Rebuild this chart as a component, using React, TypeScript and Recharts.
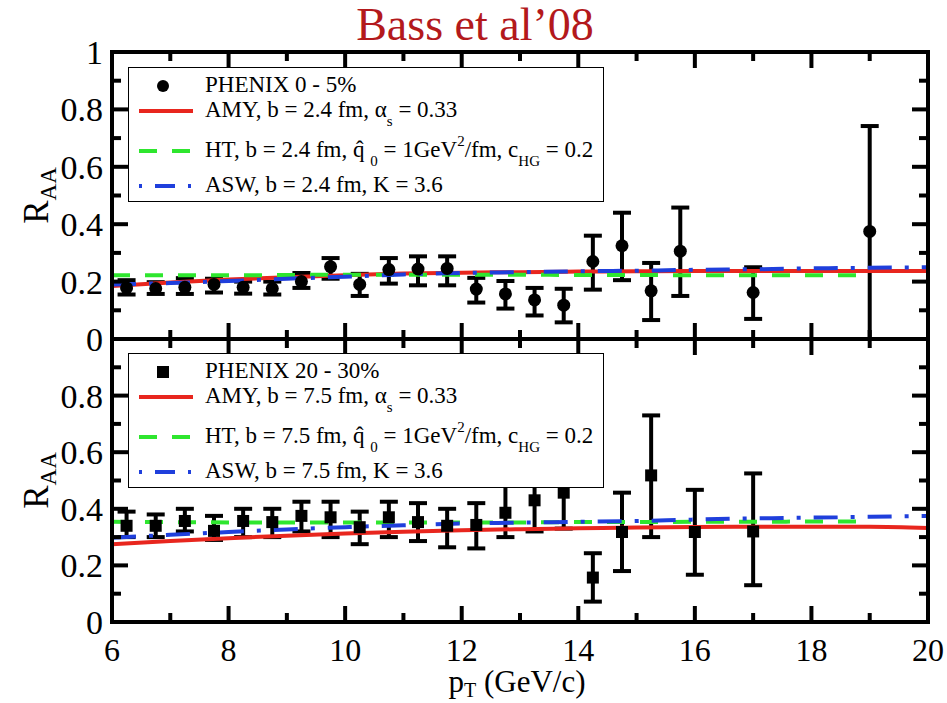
import React from 'react';
import { ComposedChart, Line, Scatter, ErrorBar, XAxis, YAxis } from 'recharts';

// theory curves, sampled at integer pT
const curveX = [6, 7, 8, 9, 10, 11, 12, 13, 14, 15, 16, 17, 18, 19, 20];

const amyCentral = [0.185, 0.197, 0.207, 0.215, 0.222, 0.228, 0.231, 0.233, 0.235, 0.236, 0.237, 0.237, 0.237, 0.237, 0.237];
const htCentral = [0.222, 0.222, 0.222, 0.223, 0.224, 0.224, 0.224, 0.224, 0.223, 0.223, 0.222, 0.222, 0.222, 0.222];
const aswCentral = [0.19, 0.195, 0.202, 0.21, 0.217, 0.225, 0.23, 0.233, 0.236, 0.238, 0.241, 0.243, 0.246, 0.248, 0.25];

const amyMid = [0.275, 0.286, 0.296, 0.305, 0.313, 0.319, 0.324, 0.328, 0.331, 0.334, 0.336, 0.337, 0.337, 0.337, 0.332];
const htMid = [0.354, 0.353, 0.352, 0.352, 0.352, 0.352, 0.352, 0.352, 0.353, 0.353, 0.354, 0.354, 0.355, 0.355];
const aswMid = [0.298, 0.308, 0.318, 0.327, 0.335, 0.342, 0.348, 0.351, 0.354, 0.357, 0.362, 0.366, 0.369, 0.372, 0.375];

// PHENIX 0-5%
const phxCentralX = [6.25, 6.75, 7.25, 7.75, 8.25, 8.75, 9.25, 9.75, 10.25, 10.75, 11.25, 11.75, 12.25, 12.75, 13.25, 13.75, 14.25, 14.75, 15.25, 15.75, 17, 19];
const phxCentralY = [0.178, 0.176, 0.18, 0.19, 0.18, 0.176, 0.2, 0.252, 0.19, 0.242, 0.244, 0.246, 0.174, 0.157, 0.136, 0.118, 0.27, 0.325, 0.168, 0.306, 0.162, 0.375];
const phxCentralLo = [0.155, 0.157, 0.157, 0.162, 0.158, 0.155, 0.178, 0.21, 0.15, 0.193, 0.187, 0.187, 0.127, 0.106, 0.082, 0.058, 0.172, 0.205, 0.066, 0.15, 0.07, 0.0];
const phxCentralHi = [0.205, 0.198, 0.212, 0.21, 0.2, 0.2, 0.23, 0.282, 0.227, 0.282, 0.288, 0.288, 0.213, 0.202, 0.178, 0.175, 0.36, 0.44, 0.265, 0.458, 0.25, 0.742];

// PHENIX 20-30%
const phxMidX = [6.25, 6.75, 7.25, 7.75, 8.25, 8.75, 9.25, 9.75, 10.25, 10.75, 11.25, 11.75, 12.25, 12.75, 13.25, 13.75, 14.25, 14.75, 15.25, 16, 17];
const phxMidY = [0.34, 0.34, 0.357, 0.322, 0.357, 0.353, 0.375, 0.37, 0.335, 0.37, 0.353, 0.34, 0.343, 0.386, 0.43, 0.457, 0.157, 0.318, 0.518, 0.318, 0.32];
const phxMidLo = [0.3, 0.3, 0.32, 0.29, 0.3, 0.3, 0.32, 0.3, 0.275, 0.3, 0.286, 0.264, 0.26, 0.3, 0.32, 0.33, 0.072, 0.18, 0.3, 0.167, 0.13];
const phxMidHi = [0.39, 0.38, 0.4, 0.375, 0.4, 0.4, 0.425, 0.425, 0.39, 0.425, 0.42, 0.4, 0.42, 0.5, 0.52, 0.56, 0.243, 0.457, 0.73, 0.467, 0.525];

const xTicks = [6, 7, 8, 9, 10, 11, 12, 13, 14, 15, 16, 17, 18, 19, 20];
const yTicks = [0, 0.1, 0.2, 0.3, 0.4, 0.5, 0.6, 0.7, 0.8, 0.9, 1];

const FONT = '"Liberation Serif", "Times New Roman", Times, serif';
const RED = '#e8261e';
const GREEN = '#2ee62e';
const BLUE = '#1f3fdc';

const curve = (ys: number[]) => ys.map((y, i) => ({ x: curveX[i], y }));
const points = (xs: number[], ys: number[], lo: number[], hi: number[]) =>
  xs.map((x, i) => ({ x, y: ys[i], err: [ys[i] - lo[i], hi[i] - ys[i]] }));

const fmt = (v: number) => (v === 0 ? '0' : v === 1 ? '1' : v.toFixed(1));
const txt = { fontFamily: FONT } as React.CSSProperties;

const XTick = (props: any) => {
  const { x, y, payload, side, labels } = props;
  const v = payload.value;
  const major = Math.round(v) % 2 === 0;
  const len = major ? 16 : 9;
  const dir = side === 'bottom' ? -1 : 1;
  return (
    <g>
      <line x1={x} y1={y} x2={x} y2={y + dir * len} stroke="#000" strokeWidth={4} />
      {labels && major && (
        <text x={x} y={y + 39} textAnchor="middle" style={txt} fontSize={32} fill="#000">
          {v}
        </text>
      )}
    </g>
  );
};

const YTick = (props: any) => {
  const { x, y, payload, side, maxLabel } = props;
  const v = payload.value;
  const major = Math.round(v * 10) % 2 === 0;
  const len = major ? 16 : 9;
  const dir = side === 'left' ? 1 : -1;
  return (
    <g>
      <line x1={x} y1={y} x2={x + dir * len} y2={y} stroke="#000" strokeWidth={4} />
      {side === 'left' && major && v <= maxLabel + 1e-6 && (
        <text x={x - 9} y={y + 12} textAnchor="end" style={txt} fontSize={34} fill="#000">
          {fmt(v)}
        </text>
      )}
    </g>
  );
};

const RaaLabel = (props: any) => {
  const { viewBox } = props;
  const cy = viewBox.y + viewBox.height / 2;
  const cx = 48;
  return (
    <text
      x={cx}
      y={cy}
      transform={`rotate(-90, ${cx}, ${cy})`}
      textAnchor="middle"
      style={txt}
      fontSize={35}
      fill="#000"
    >
      R<tspan fontSize={23} dy={8}>AA</tspan>
    </text>
  );
};

const PtLabel = () => (
  <text x={517} y={392} textAnchor="middle" style={txt} fontSize={31} fill="#000">
    p<tspan fontSize={20} dy={5}>T</tspan>
    <tspan dy={-5}> (GeV/c)</tspan>
  </text>
);

const Circle = (p: any) => <circle cx={p.cx} cy={p.cy} r={6.5} fill="#000" />;
const Square = (p: any) => <rect x={p.cx - 6} y={p.cy - 6} width={12} height={12} fill="#000" />;

const sub = { fontSize: 15, position: 'relative', top: 9, verticalAlign: 'baseline' } as React.CSSProperties;
const sup = { fontSize: 15, position: 'relative', top: -11, verticalAlign: 'baseline' } as React.CSSProperties;

function Sample({ kind }: { kind: string }) {
  return (
    <svg width={60} height={14} style={{ position: 'absolute', left: 8, top: -7 }}>
      {kind === 'circle' && <circle cx={26} cy={7} r={6} fill="#000" />}
      {kind === 'square' && <rect x={20} y={1} width={12} height={12} fill="#000" />}
      {kind === 'amy' && <line x1={2} y1={7} x2={56} y2={7} stroke={RED} strokeWidth={4} />}
      {kind === 'ht' && <line x1={2} y1={7} x2={56} y2={7} stroke={GREEN} strokeWidth={4} strokeDasharray="18 15" />}
      {kind === 'asw' && <line x1={2} y1={7} x2={56} y2={7} stroke={BLUE} strokeWidth={4} strokeDasharray="3 13 20 13 3 20" />}
    </svg>
  );
}

function Row({ top, kind, children }: { top: number; kind: string; children: React.ReactNode }) {
  return (
    <div style={{ position: 'absolute', left: 0, top, width: '100%', height: 0 }}>
      <Sample kind={kind} />
      <div style={{ position: 'absolute', left: 76, top: -14, whiteSpace: 'nowrap', lineHeight: '26px' }}>{children}</div>
    </div>
  );
}

function LegendBox({ top, pct, b, symbol }: { top: number; pct: string; b: string; symbol: string }) {
  return (
    <div
      style={{
        position: 'absolute',
        left: 128,
        top,
        width: 474,
        height: 133,
        border: '1.5px solid #000',
        background: '#fff',
        fontFamily: FONT,
        fontSize: 23,
        color: '#000',
      }}
    >
      <Row top={18} kind={symbol}>PHENIX {pct}</Row>
      <Row top={43} kind="amy">
        AMY, b = {b} fm, α<span style={sub}>s</span> = 0.33
      </Row>
      <Row top={83} kind="ht">
        HT, b = {b} fm, q̂ <span style={sub}>0</span> = 1GeV<span style={sup}>2</span>/fm, c<span style={sub}>HG</span> = 0.2
      </Row>
      <Row top={118} kind="asw">
        ASW, b = {b} fm, K = 3.6
      </Row>
    </div>
  );
}

function Panel({
  height,
  margin,
  pts,
  amy,
  ht,
  asw,
  square,
  xLabels,
  maxLabel,
}: {
  height: number;
  margin: { top: number; right: number; bottom: number; left: number };
  pts: any[];
  amy: number[];
  ht: number[];
  asw: number[];
  square: boolean;
  xLabels: boolean;
  maxLabel: number;
}) {
  const axisLine = { stroke: '#000', strokeWidth: 4, strokeLinecap: 'square' as const };
  return (
    <ComposedChart width={947} height={height} margin={margin} style={{ fontFamily: FONT }}>
      <XAxis
        xAxisId="b"
        type="number"
        dataKey="x"
        domain={[6, 20]}
        ticks={xTicks}
        allowDataOverflow
        height={xLabels ? 60 : 1}
        tickSize={0}
        tickMargin={0}
        axisLine={axisLine}
        tickLine={false}
        tick={<XTick side="bottom" labels={xLabels} />}
        label={xLabels ? <PtLabel /> : undefined}
      />
      <XAxis
        xAxisId="t"
        orientation="top"
        type="number"
        dataKey="x"
        domain={[6, 20]}
        ticks={xTicks}
        allowDataOverflow
        height={1}
        tickSize={0}
        tickMargin={0}
        axisLine={axisLine}
        tickLine={false}
        tick={<XTick side="top" labels={false} />}
      />
      <YAxis
        yAxisId="l"
        type="number"
        domain={[0, 1]}
        ticks={yTicks}
        allowDataOverflow
        width={60}
        tickSize={0}
        tickMargin={0}
        axisLine={axisLine}
        tickLine={false}
        tick={<YTick side="left" maxLabel={maxLabel} />}
        label={<RaaLabel />}
      />
      <YAxis
        yAxisId="r"
        orientation="right"
        type="number"
        domain={[0, 1]}
        ticks={yTicks}
        allowDataOverflow
        width={1}
        tickSize={0}
        tickMargin={0}
        axisLine={axisLine}
        tickLine={false}
        tick={<YTick side="right" maxLabel={maxLabel} />}
      />
      <Scatter
        data={pts}
        dataKey="y"
        xAxisId="b"
        yAxisId="l"
        isAnimationActive={false}
        shape={square ? Square : Circle}
      >
        <ErrorBar dataKey="err" direction="y" width={9} stroke="#000" strokeWidth={4} isAnimationActive={false} />
      </Scatter>
      <Line data={curve(amy)} dataKey="y" xAxisId="b" yAxisId="l" type="monotone" stroke={RED} strokeWidth={4} dot={false} isAnimationActive={false} />
      <Line data={curve(ht)} dataKey="y" xAxisId="b" yAxisId="l" type="monotone" stroke={GREEN} strokeWidth={4} strokeDasharray="18 15" dot={false} isAnimationActive={false} />
      <Line data={curve(asw)} dataKey="y" xAxisId="b" yAxisId="l" type="monotone" stroke={BLUE} strokeWidth={4} strokeDasharray="24 13 4 13" dot={false} isAnimationActive={false} />
    </ComposedChart>
  );
}

export default function App() {
  return (
    <div style={{ position: 'absolute', left: 0, top: 0, width: 947, height: 703, background: '#fff', overflow: 'hidden' }}>
      <div style={{ position: 'absolute', left: 0, top: 0, width: 947 }}>
        <Panel
          height={365}
          margin={{ top: 51, right: 18, bottom: 25, left: 52 }}
          pts={points(phxCentralX, phxCentralY, phxCentralLo, phxCentralHi)}
          amy={amyCentral}
          ht={htCentral}
          asw={aswCentral}
          square={false}
          xLabels={false}
          maxLabel={1}
        />
      </div>
      <div style={{ position: 'absolute', left: 0, top: 300, width: 947 }}>
        <Panel
          height={403}
          margin={{ top: 38, right: 18, bottom: 21, left: 52 }}
          pts={points(phxMidX, phxMidY, phxMidLo, phxMidHi)}
          amy={amyMid}
          ht={htMid}
          asw={aswMid}
          square
          xLabels
          maxLabel={0.8}
        />
      </div>
      <div
        style={{
          position: 'absolute',
          left: 0,
          top: 2,
          width: 950,
          textAlign: 'center',
          fontFamily: FONT,
          fontSize: 46,
          lineHeight: '46px',
          color: '#b3191c',
        }}
      >
        Bass et al’08
      </div>
      <LegendBox top={67} pct="0 - 5%" b="2.4" symbol="circle" />
      <LegendBox top={353} pct="20 - 30%" b="7.5" symbol="square" />
    </div>
  );
}
